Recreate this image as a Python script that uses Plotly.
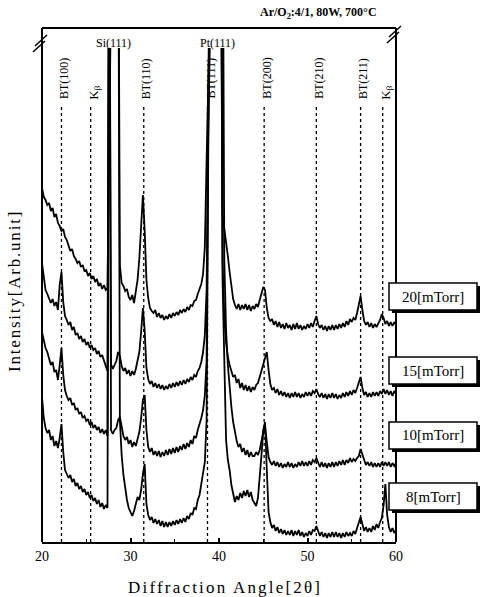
import numpy as np
import plotly.graph_objects as go

# XRD scans of BT films, 2-theta stepped every 0.2 deg from 20 to 60 deg
two_theta = np.round(np.linspace(20, 60, 201), 1)

# reflections that saturate the detector run past the top of the frame
OFF = 700

# intensities (arb. units, each pattern already offset for stacking)
i_20 = [354, 345, 342, 337, 339, 331, 334, 325, 328, 319,
        316, 311, 313, 305, 302, 296, 291, 293, 286, 283,
        279, 281, 275, 277, 271, 272, 266, 269, 263, 266,
        260, 263, 256, 259, 253, 257, 252, 254, OFF, OFF,
        OFF, OFF, OFF, OFF, 277, 259, 256, 251, 253, 245,
        242, 247, 239, 249, 262, 284, 317, 347, 312, 262,
        244, 234, 231, 229, 232, 225, 229, 224, 227, 222,
        226, 223, 228, 224, 229, 226, 230, 227, 232, 229,
        233, 230, 235, 232, 237, 236, 241, 242, 248, 253,
        258, 268, 295, 382, 470, OFF, OFF, OFF, OFF, OFF,
        OFF, OFF, 327, 314, 302, 286, 270, 254, 243, 237,
        233, 238, 232, 237, 233, 238, 232, 237, 231, 236,
        233, 238, 235, 242, 248, 255, 252, 234, 224, 221,
        223, 217, 221, 215, 220, 214, 218, 213, 219, 214,
        217, 212, 218, 213, 219, 213, 217, 212, 216, 213,
        218, 214, 219, 215, 221, 226, 218, 214, 217, 212,
        216, 211, 216, 212, 217, 212, 217, 213, 218, 214,
        219, 215, 221, 217, 223, 220, 224, 222, 229, 238,
        246, 232, 221, 217, 220, 215, 219, 214, 218, 215,
        219, 222, 228, 224, 218, 221, 216, 220, 216, 220,
        217]

i_15 = [279, 262, 252, 248, 244, 239, 243, 236, 240, 232,
        257, 270, 240, 226, 222, 217, 220, 212, 215, 207,
        209, 203, 206, 200, 203, 197, 200, 194, 197, 192,
        194, 188, 191, 185, 187, 180, 176, 171, OFF, 178,
        173, 177, 181, 190, 186, 176, 171, 174, 168, 172,
        166, 171, 167, 173, 180, 190, 210, 234, 212, 174,
        163, 158, 161, 155, 159, 154, 158, 153, 157, 152,
        156, 153, 158, 154, 159, 155, 160, 156, 161, 157,
        162, 158, 163, 160, 165, 162, 167, 165, 171, 174,
        180, 190, 207, 252, 420, OFF, OFF, OFF, OFF, OFF,
        OFF, OFF, 282, 224, 199, 185, 177, 170, 165, 167,
        159, 163, 154, 159, 152, 157, 151, 156, 150, 155,
        152, 157, 159, 165, 172, 179, 186, 190, 172, 158,
        152, 154, 149, 153, 147, 151, 146, 150, 145, 149,
        144, 149, 145, 150, 145, 149, 144, 148, 145, 150,
        146, 150, 146, 151, 149, 153, 148, 145, 149, 144,
        148, 143, 148, 144, 149, 144, 148, 143, 147, 144,
        149, 145, 150, 146, 151, 147, 152, 149, 154, 159,
        165, 154, 147, 150, 145, 149, 145, 150, 146, 150,
        146, 151, 148, 153, 148, 152, 147, 151, 146, 151,
        148]

i_10 = [210, 202, 194, 190, 184, 177, 180, 170, 172, 162,
        177, 194, 167, 152, 146, 142, 144, 137, 139, 132,
        134, 128, 130, 124, 126, 121, 123, 117, 120, 114,
        117, 112, 115, 109, 113, 108, 112, 106, OFF, 112,
        108, 112, 114, 122, 125, 114, 106, 102, 105, 98,
        102, 95, 100, 96, 102, 110, 124, 142, 147, 112,
        95, 90, 94, 87, 91, 86, 91, 85, 90, 86,
        92, 87, 93, 88, 94, 89, 95, 90, 96, 92,
        98, 93, 99, 95, 102, 98, 106, 104, 112, 117,
        124, 132, 147, 182, 400, OFF, OFF, OFF, OFF, OFF,
        OFF, OFF, OFF, 282, 212, 177, 152, 135, 120, 110,
        101, 95, 98, 90, 94, 87, 92, 85, 90, 86,
        86, 90, 87, 92, 102, 110, 116, 97, 85, 80,
        77, 81, 76, 80, 75, 79, 74, 78, 75, 80,
        75, 79, 74, 78, 75, 80, 76, 81, 76, 80,
        76, 81, 77, 82, 80, 84, 79, 75, 80, 75,
        79, 74, 79, 75, 80, 75, 80, 76, 81, 77,
        82, 77, 82, 79, 84, 80, 83, 81, 84, 86,
        93, 88, 81, 77, 80, 76, 80, 75, 79, 75,
        79, 75, 80, 76, 80, 76, 80, 75, 79, 76,
        79]

i_8 = [145, 124, 114, 109, 112, 102, 106, 96, 101, 94,
       104, 118, 90, 72, 68, 64, 67, 60, 63, 56,
       59, 53, 56, 50, 53, 47, 50, 44, 47, 41,
       44, 38, 42, 35, 39, 33, 37, 34, OFF, OFF,
       OFF, OFF, OFF, OFF, 122, 87, 67, 52, 42, 34,
       29, 26, 31, 37, 45, 42, 52, 68, 78, 38,
       27, 22, 25, 19, 23, 18, 22, 16, 21, 15,
       20, 15, 20, 16, 21, 17, 22, 18, 23, 19,
       24, 20, 26, 23, 29, 27, 34, 33, 42, 47,
       57, 67, 80, 122, 380, OFF, OFF, OFF, OFF, OFF,
       OFF, OFF, 262, 162, 102, 82, 72, 57, 47, 40,
       46, 42, 49, 44, 51, 46, 52, 45, 50, 42,
       39, 36, 44, 62, 87, 112, 120, 72, 30, 20,
       14, 17, 11, 15, 9, 13, 8, 12, 7, 11,
       7, 12, 6, 11, 7, 12, 6, 10, 5, 9,
       6, 11, 7, 12, 11, 16, 11, 6, 10, 5,
       9, 4, 9, 5, 10, 5, 10, 5, 9, 4,
       9, 5, 10, 6, 9, 6, 11, 8, 14, 20,
       25, 18, 11, 15, 10, 14, 10, 16, 12, 18,
       14, 20, 24, 37, 58, 27, 15, 10, 14, 9,
       12]

pressure_labels = ["20[mTorr]", "15[mTorr]", "10[mTorr]", "8[mTorr]"]

# indexed reflections marked with dotted lines
peak_names = ["BT(100)", "K<sub>β</sub>", "BT(110)", "BT(111)",
              "BT(200)", "BT(210)", "BT(211)", "K<sub>β</sub>"]
peak_pos = [22.2, 25.5, 31.5, 38.7, 45.1, 51.0, 56.0, 58.5]

substrate_names = ["Si(111)", "Pt(111)"]
substrate_pos = [28.1, 39.8]

x_ticks = [20, 30, 40, 50, 60]

# ---------------------------------------------------------------------------
W, H = 483, 597
L, R, T, B = 42, 396, 48, 542          # plot area in page pixels
Y_TOP = 494                            # intensity at the plot-area top


def fx(p):
    return (p - L) / (R - L)


def fy(p):
    return (B - p) / (B - T)


SERIF = "Liberation Serif, Times New Roman, serif"
INK = "black"

fig = go.Figure()
for vals in (i_20, i_15, i_10, i_8):
    fig.add_trace(go.Scatter(
        x=two_theta, y=vals, mode="lines",
        line=dict(color=INK, width=1.8),
        hoverinfo="skip", showlegend=False))

shapes = []
annotations = []

# dotted reference lines with rotated labels
for name, pos in zip(peak_names, peak_pos):
    shapes.append(dict(type="line", xref="x", yref="y", x0=pos, x1=pos,
                       y0=0, y1=Y_TOP - 57, layer="below",
                       line=dict(color=INK, width=1.3, dash="dot")))
    is_k = name.startswith("K")
    annotations.append(dict(
        x=pos, xref="x", y=fy(101 if not is_k else 102), yref="paper",
        text=name, textangle=-90, showarrow=False,
        xanchor="center", yanchor="bottom", xshift=3,
        font=dict(family=SERIF, size=12 if not is_k else 13, color=INK)))

for name, pos in zip(substrate_names, substrate_pos):
    annotations.append(dict(
        x=pos, xref="x", y=fy(43), yref="paper", text=name,
        showarrow=False, xanchor="center", yanchor="middle",
        font=dict(family=SERIF, size=12, color=INK)))

# frame: left, right and top edges above the plot area
frame_top = fy(28)
for x0, y0, x1, y1 in [(0, 0, 0, frame_top), (1, 0, 1, frame_top),
                       (0, frame_top, 1, frame_top)]:
    shapes.append(dict(type="line", xref="paper", yref="paper",
                       x0=x0, y0=y0, x1=x1, y1=y1,
                       line=dict(color=INK, width=2)))

# axis-break marks on the upper corners
for (ax, ay, bx, by) in [(33, 52, 45, 41), (35, 46, 47, 35),
                         (387, 43, 399, 32), (389, 37, 401, 26)]:
    shapes.append(dict(type="line", xref="paper", yref="paper",
                       x0=fx(ax), y0=fy(ay), x1=fx(bx), y1=fy(by),
                       line=dict(color=INK, width=1.5)))

# pressure tags (boxes with a drop shadow)
box_tops = [283, 357, 422, 483]
for label, top in zip(pressure_labels, box_tops):
    left, right, bottom = 389, 477, top + 27
    shapes.append(dict(type="rect", xref="paper", yref="paper",
                       x0=fx(left + 3), x1=fx(right + 3),
                       y0=fy(bottom + 3), y1=fy(top + 3),
                       fillcolor=INK, line=dict(width=0)))
    shapes.append(dict(type="rect", xref="paper", yref="paper",
                       x0=fx(left), x1=fx(right), y0=fy(bottom), y1=fy(top),
                       fillcolor="white", line=dict(color=INK, width=1.5)))
    annotations.append(dict(
        x=fx((left + right) / 2), y=fy((top + bottom) / 2),
        xref="paper", yref="paper", text=label, showarrow=False,
        xanchor="center", yanchor="middle",
        font=dict(family=SERIF, size=15, color=INK)))

# deposition conditions
annotations.append(dict(
    x=fx(318), y=fy(13), xref="paper", yref="paper",
    text="<b>Ar/O<sub>2</sub>:4/1, 80W, 700°C</b>", showarrow=False,
    xanchor="center", yanchor="middle",
    font=dict(family=SERIF, size=12, color=INK)))

# axis titles
annotations.append(dict(
    x=fx(225), y=fy(587), xref="paper", yref="paper",
    text='<span style="letter-spacing:2.2px">Diffraction Angle[2θ]</span>',
    showarrow=False, xanchor="center", yanchor="middle",
    font=dict(family=SERIF, size=17, color=INK)))
annotations.append(dict(
    x=fx(14), y=fy(291), xref="paper", yref="paper",
    text='<span style="letter-spacing:1.8px">Intensity[Arb.unit]</span>',
    textangle=-90, showarrow=False, xanchor="center", yanchor="middle",
    font=dict(family=SERIF, size=17, color=INK)))

fig.update_layout(
    width=W, height=H,
    margin=dict(l=L, r=W - R, t=T, b=H - B, pad=0),
    paper_bgcolor="white", plot_bgcolor="white",
    shapes=shapes, annotations=annotations,
    xaxis=dict(range=[20, 60], tickvals=x_ticks,
               ticktext=[str(v) for v in x_ticks],
               ticks="inside", ticklen=4, tickwidth=1.5, tickcolor=INK,
               minor=dict(ticks="inside", dtick=5, ticklen=3,
                          tickwidth=1.2, tickcolor=INK),
               showline=True, linewidth=2, linecolor=INK,
               showgrid=False, zeroline=False,
               tickfont=dict(family=SERIF, size=14, color=INK)),
    yaxis=dict(range=[0, Y_TOP], showticklabels=False, ticks="",
               showline=False, showgrid=False, zeroline=False),
)

fig.write_html("out.html")
